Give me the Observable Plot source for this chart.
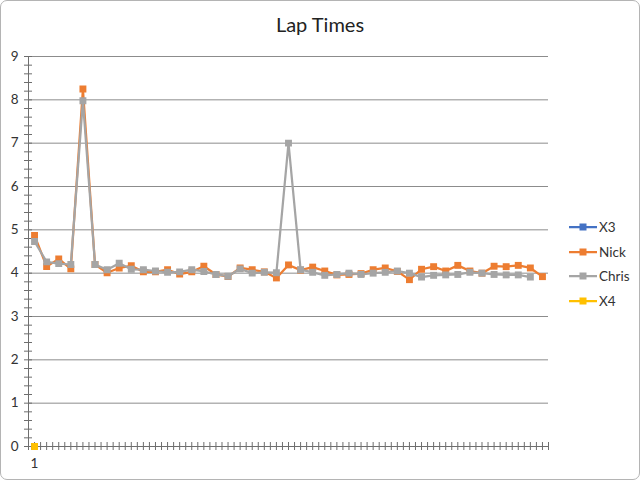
<!DOCTYPE html>
<html>
<head>
<meta charset="utf-8">
<script src="https://cdn.jsdelivr.net/npm/d3@7"></script>
<script src="https://cdn.jsdelivr.net/npm/@observablehq/plot@0.6"></script>
<style>
  html, body { margin: 0; padding: 0; background: #fff; }
  #chart { position: relative; width: 638px; height: 478px; border: 1px solid #b4b4b4; border-radius: 7px; background: #fff; overflow: hidden; font-family: Lato, "Open Sans", sans-serif; }
  #title { position: absolute; top: 11px; left: 0; width: 100%; text-align: center; font-size: 20px; color: #222; }
  #plot { position: absolute; left: 0; top: 0; }
  #legend { position: absolute; left: 568px; top: 214px; font-size: 13.5px; color: #333; }
  .item { display: flex; align-items: center; height: 24.5px; }
  .item svg { margin-right: 2px; }
</style>
</head>
<body>
<div id="chart">
  <div id="title">Lap Times</div>
  <div id="plot"></div>
  <div id="legend"></div>
</div>
<script>
// Data
const seriesNames = ["X3", "Nick", "Chris", "X4"];
const seriesColors = ["#4472c4", "#ed7d31", "#a5a5a5", "#ffc000"];
const x3 = [0];
const nick = [4.87, 4.15, 4.33, 4.10, 8.25, 4.20, 4.01, 4.12, 4.17, 4.03, 4.03, 4.08, 3.98, 4.03, 4.16, 3.97, 3.92, 4.12, 4.08, 4.03, 3.89, 4.19, 4.07, 4.14, 4.05, 3.96, 3.97, 3.99, 4.08, 4.12, 4.04, 3.85, 4.09, 4.15, 4.05, 4.18, 4.05, 4.00, 4.16, 4.15, 4.18, 4.12, 3.92];
const chris = [4.73, 4.26, 4.22, 4.20, 7.98, 4.20, 4.08, 4.23, 4.09, 4.08, 4.05, 4.02, 4.03, 4.08, 4.04, 3.97, 3.93, 4.10, 4.00, 4.02, 4.01, 7.00, 4.08, 4.02, 3.95, 3.97, 4.00, 3.97, 4.00, 4.02, 4.05, 4.00, 3.91, 3.95, 3.96, 3.97, 4.02, 4.00, 3.97, 3.96, 3.96, 3.91];
const x4 = [0];
const nLaps = 43;
const xTickLabels = [1];
const yMajor = [0, 1, 2, 3, 4, 5, 6, 7, 8, 9];

const seriesValues = [x3, nick, chris, x4];
const table = seriesValues.map((vals, i) => vals.map((v, j) => ({series: seriesNames[i], lap: j + 1, value: v})));
const yMinor = d3.range(0, 9.0001, 0.2);
const xMinor = d3.range(0.5, nLaps + 0.5001, 0.5);

const gridColor = "#8c8c8c";
const axisColor = "#6e6e6e";

const marks = [
  Plot.ruleY(yMajor.filter(d => d > 0), {stroke: gridColor, strokeWidth: 1}),
  Plot.axisY(yMinor, {tickSize: 8, dx: 4, fill: "none", stroke: axisColor, label: null}),
  Plot.axisY(yMajor, {tickSize: 0, tickPadding: 10, fontSize: 13.5, fill: "#333", label: null, tickFormat: d3.format("d")}),
  Plot.axisX(xMinor, {tickSize: 8, dy: -4, fill: "none", stroke: axisColor, label: null}),
  Plot.axisX(xTickLabels, {tickSize: 0, tickPadding: 12, fontSize: 13.5, fill: "#333", label: null}),
  Plot.ruleX([0.5], {stroke: axisColor}),
  Plot.ruleY([0], {stroke: axisColor})
];
table.forEach((rows, i) => {
  marks.push(Plot.line(rows, {x: "lap", y: "value", stroke: seriesColors[i], strokeWidth: 2.25}));
  marks.push(Plot.dot(rows, {x: "lap", y: "value", symbol: "square", r: 3.9, fill: seriesColors[i], stroke: "none"}));
});

const plot = Plot.plot({
  width: 560,
  height: 478,
  marginLeft: 27,
  marginRight: 13,
  marginTop: 55,
  marginBottom: 33,
  style: {fontFamily: "Lato, 'Open Sans', sans-serif", background: "transparent"},
  x: {type: "linear", domain: [0.5, nLaps + 0.5], axis: null},
  y: {domain: [0, 9], axis: null},
  marks
});
document.getElementById("plot").appendChild(plot);

const legend = document.getElementById("legend");
seriesNames.forEach((name, i) => {
  const item = document.createElement("div");
  item.className = "item";
  item.innerHTML = `<svg width="28" height="10"><line x1="0" y1="5" x2="28" y2="5" stroke="${seriesColors[i]}" stroke-width="2.25"/><rect x="10.5" y="1.5" width="7" height="7" fill="${seriesColors[i]}"/></svg><span>${name}</span>`;
  legend.appendChild(item);
});
</script>
</body>
</html>
